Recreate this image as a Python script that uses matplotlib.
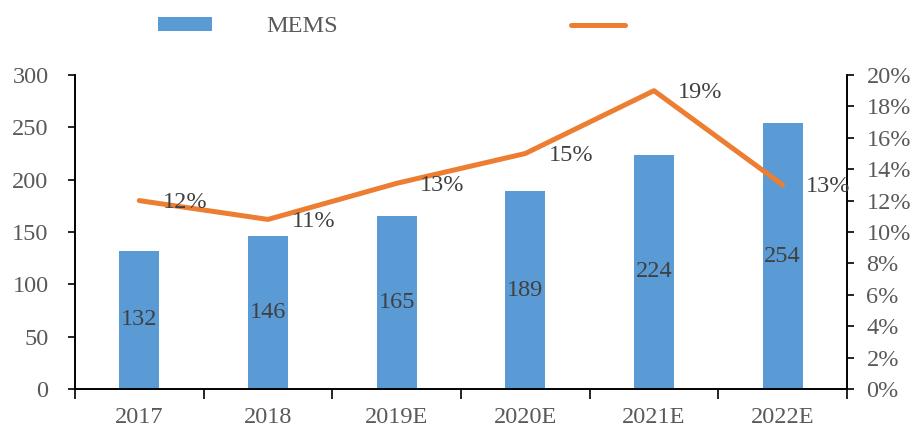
import numpy as np
import matplotlib.pyplot as plt
from matplotlib.patches import Patch
from matplotlib.lines import Line2D

# --- データ ---
years = ['2017', '2018', '2019E', '2020E', '2021E', '2022E']
mems = [132, 146, 165, 189, 224, 254]          # 市場規模
growth = [12.0, 10.8, 13.1, 15.0, 19.0, 13.0]  # 成長率 (%)
growth_labels = ['12%', '11%', '13%', '15%', '19%', '13%']

bar_color = '#5B9BD5'
line_color = '#ED7D31'
tick_color = '#595959'
label_color = '#404040'

plt.rcParams['font.family'] = ['Liberation Serif', 'DejaVu Serif']
plt.rcParams['font.size'] = 17.5

fig = plt.figure(figsize=(9.12, 4.28), dpi=100)
ax = fig.add_axes([0.0822, 0.0911, 0.8465, 0.7337])
x = np.arange(len(years))

bars = ax.bar(x, mems, width=0.31, color=bar_color, zorder=2)
ax.bar_label(bars, labels=[str(v) for v in mems], label_type='center',
             color=label_color, fontsize=17.5)
ax.set_ylim(0, 300)
ax.set_yticks(np.arange(0, 301, 50))
ax.set_xlim(-0.5, len(years) - 0.5)
ax.set_xticks(x)
ax.set_xticklabels(years)
ax.set_xticks(np.arange(-0.5, len(years), 1), minor=True)
ax.tick_params(axis='x', which='major', length=0, pad=13, colors=tick_color)
ax.tick_params(axis='x', which='minor', length=7, width=1.2, color='black')
ax.tick_params(axis='y', length=5, width=1.2, pad=14, colors=tick_color)
ax.tick_params(axis='y', color='black')

ax2 = ax.twinx()
ax2.plot(x, growth, color=line_color, lw=3.6, solid_capstyle='round',
         solid_joinstyle='round', zorder=3)
for xi, g, t in zip(x, growth, growth_labels):
    ax2.annotate(t, (xi, g), xytext=(17, -1.5), textcoords='offset points',
                 ha='left', va='center', color=label_color, fontsize=17.5)
ax2.set_ylim(0, 20)
ax2.set_yticks(np.arange(0, 21, 2))
ax2.set_yticklabels([f'{v}%' for v in range(0, 21, 2)])
ax2.tick_params(axis='y', length=5, width=1.2, pad=9, colors=tick_color)
ax2.tick_params(axis='y', color='black')

for a in (ax, ax2):
    a.spines['top'].set_visible(False)
    for s in ('left', 'right', 'bottom'):
        a.spines[s].set_linewidth(1.2)
        a.spines[s].set_color('black')

handles = [Patch(facecolor=bar_color, edgecolor='none'),
           Line2D([0], [0], color=line_color, lw=3.6, solid_capstyle='round')]
fig.legend(handles, ['MEMS', ''], ncol=2, loc='center left',
           bbox_to_anchor=(146 / 912, 1 - 27 / 428), frameon=False,
           borderpad=0, handlelength=2.2, handleheight=0.5,
           handletextpad=2.25, columnspacing=9.6, labelcolor=tick_color,
           fontsize=17.5)

fig.savefig('out.png', dpi=100)
